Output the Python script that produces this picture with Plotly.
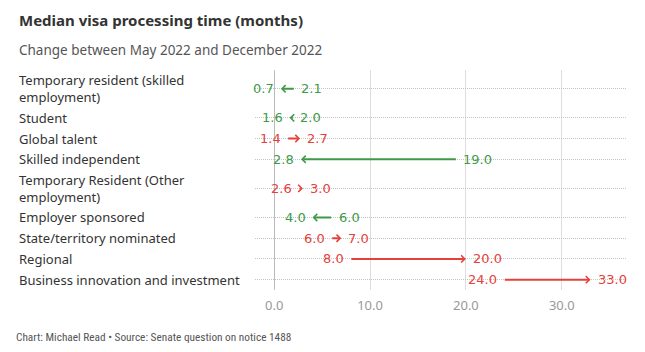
import plotly.graph_objects as go

categories = [
    "Temporary resident (skilled<br>employment)",
    "Student",
    "Global talent",
    "Skilled independent",
    "Temporary Resident (Other<br>employment)",
    "Employer sponsored",
    "State/territory nominated",
    "Regional",
    "Business innovation and investment",
]
may_2022 = [2.1, 2.0, 1.4, 19.0, 2.6, 6.0, 6.0, 8.0, 24.0]
dec_2022 = [0.7, 1.6, 2.7, 2.8, 3.0, 4.0, 7.0, 20.0, 33.0]
x_ticks = [0, 10, 20, 30]

GREEN = "#3d9a48"
RED = "#e5403a"
LABEL_FONT = "Noto Sans"
VALUE_FONT = "DejaVu Sans"

W, H = 645, 352
ML, MR, MT, MB = 255, 19, 70, 62

# row layout (pixel-like units): taller rows for wrapped labels
LINE_H = 21
EXTRA = 17
heights = [LINE_H + EXTRA * c.count("<br>") for c in categories]
centers = []
acc = 0
for h in heights:
    centers.append(acc + h / 2)
    acc += h
total = acc


def px_x(p):
    return (p - ML) / (W - ML - MR)


def px_y(p):
    return (H - MB - p) / (H - MT - MB)


fig = go.Figure()
fig.add_trace(go.Scatter(x=may_2022 + dec_2022, y=centers + centers, mode="markers",
                         marker=dict(opacity=0), hoverinfo="skip", showlegend=False))

ann = []
for cat, s, e, yc in zip(categories, may_2022, dec_2022, centers):
    col = GREEN if e < s else RED
    ann.append(dict(x=e, y=yc, ax=s, ay=yc, xref="x", yref="y", axref="x", ayref="y",
                    showarrow=True, arrowhead=4, arrowsize=0.7, arrowwidth=2,
                    arrowcolor=col, text="", font=dict(size=1), borderpad=0))
    if e < s:
        end_anchor, end_shift, start_anchor, start_shift = "right", -5, "left", 5
    else:
        end_anchor, end_shift, start_anchor, start_shift = "left", 5, "right", -5
    ann.append(dict(x=s, y=yc, xref="x", yref="y", text=f"{s:.1f}", showarrow=False,
                    xanchor=start_anchor, xshift=start_shift, yanchor="middle",
                    font=dict(family=VALUE_FONT, size=13, color=col)))
    ann.append(dict(x=e, y=yc, xref="x", yref="y", text=f"{e:.1f}", showarrow=False,
                    xanchor=end_anchor, xshift=end_shift, yanchor="middle",
                    font=dict(family=VALUE_FONT, size=13, color=col)))
    ann.append(dict(x=px_x(17), xref="paper", y=yc, yref="y", text=cat, showarrow=False,
                    xanchor="left", yanchor="middle", align="left",
                    font=dict(family=LABEL_FONT, size=13, color="#333333")))

ann.append(dict(x=px_x(17), y=px_y(20), xref="paper", yref="paper", xanchor="left", yanchor="middle",
                text="<b>Median visa processing time (months)</b>", showarrow=False,
                font=dict(family=LABEL_FONT, size=15, color="#333333")))
ann.append(dict(x=px_x(17), y=px_y(50), xref="paper", yref="paper", xanchor="left", yanchor="middle",
                text="Change between May 2022 and December 2022", showarrow=False,
                font=dict(family=LABEL_FONT, size=13.5, color="#555555")))
ann.append(dict(x=px_x(14), y=px_y(337), xref="paper", yref="paper", xanchor="left", yanchor="middle",
                text="Chart: Michael Read \u2022 Source: Senate question on notice 1488", showarrow=False,
                font=dict(family="Liberation Sans Narrow, Roboto Condensed, Roboto", size=11.3, color="#555555")))

fig.update_layout(
    width=W, height=H,
    margin=dict(l=ML, r=MR, t=MT, b=MB),
    paper_bgcolor="white", plot_bgcolor="white",
    showlegend=False,
    annotations=ann,
    xaxis=dict(range=[-2, 36.7], tickvals=x_ticks, ticktext=[f"{v:.1f}" for v in x_ticks],
               showgrid=True, gridcolor="#dddddd", gridwidth=1,
               zeroline=True, zerolinecolor="#bbbbbb", zerolinewidth=1,
               showline=False, ticks="", ticklabelstandoff=6,
               tickfont=dict(family=LABEL_FONT, size=13, color="#999999"), fixedrange=True),
    yaxis=dict(range=[total, 0], tickvals=centers, showticklabels=False,
               showgrid=True, gridcolor="#c4c4c4", griddash="1px,1px", gridwidth=1,
               zeroline=False, showline=False, ticks="", fixedrange=True),
)

fig.write_html("out.html")
